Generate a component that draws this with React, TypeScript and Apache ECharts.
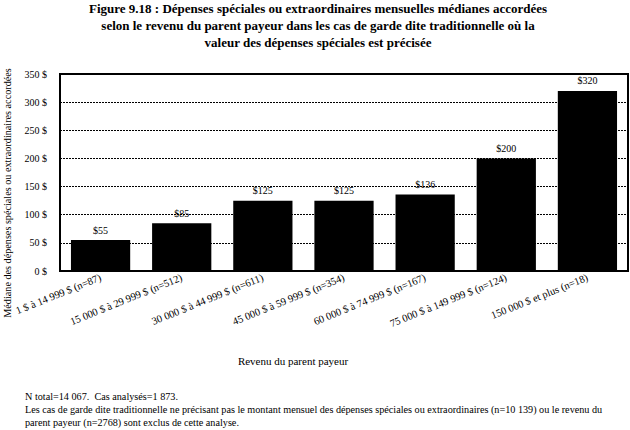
import { useEffect, useRef } from "react";
import * as echarts from "echarts";

const categories = [
  "1 $ à 14 999 $ (n=87)",
  "15 000 $ à 29 999 $ (n=512)",
  "30 000 $ à 44 999 $ (n=611)",
  "45 000 $ à 59 999 $ (n=354)",
  "60 000 $ à 74 999 $ (n=167)",
  "75 000 $ à 149 999 $ (n=124)",
  "150 000 $ et plus (n=18)",
];
const medians = [55, 85, 125, 125, 136, 200, 320];

const titleLines = [
  "Figure 9.18 : Dépenses spéciales ou extraordinaires mensuelles médianes accordées",
  "selon le revenu du parent payeur dans les cas de garde dite traditionnelle où la",
  "valeur des dépenses spéciales est précisée",
];
const yAxisTitle = "Médiane des dépenses spéciales ou extraordinaires accordées";
const xAxisTitle = "Revenu du parent payeur";
const notes = [
  "N total=14 067.  Cas analysés=1 873.",
  "Les cas de garde dite traditionnelle ne précisant pas le montant mensuel des dépenses spéciales ou extraordinaires (n=10 139) ou le revenu du",
  "parent payeur (n=2768) sont exclus de cette analyse.",
];

const FONT = "Liberation Serif";

export default function App() {
  const ref = useRef<HTMLDivElement | null>(null);

  useEffect(() => {
    if (!ref.current) return;
    const chart = echarts.init(ref.current, undefined, { renderer: "svg" });

    const option: echarts.EChartsOption = {
      animation: false,
      backgroundColor: "#ffffff",
      textStyle: { fontFamily: FONT, color: "#000" },
      title: {
        text: titleLines.join("\n"),
        left: 318,
        top: 0,
        padding: 0,
        textAlign: "center",
        textStyle: {
          fontFamily: FONT,
          fontSize: 13,
          fontWeight: "bold",
          lineHeight: 17,
          color: "#000",
        },
      },
      grid: {
        left: 60,
        right: 2,
        top: 74,
        bottom: 159,
        show: true,
        borderColor: "#000",
        borderWidth: 2,
        backgroundColor: "transparent",
      },
      xAxis: {
        type: "category",
        data: categories,
        axisLine: { show: true, lineStyle: { color: "#000", width: 2 } },
        axisTick: { show: false },
        axisLabel: {
          rotate: 22,
          fontFamily: FONT,
          fontSize: 10.5,
          color: "#000",
          margin: 6,
          interval: 0,
        },
      },
      yAxis: {
        type: "value",
        min: 0,
        max: 350,
        interval: 50,
        axisLine: { show: false },
        axisTick: { show: false },
        axisLabel: {
          formatter: "{value} $",
          fontFamily: FONT,
          fontSize: 10,
          color: "#000",
          margin: 13,
        },
        splitLine: {
          show: true,
          lineStyle: { color: "#000", type: [2, 1], width: 1 },
        },
      },
      series: [
        {
          type: "bar",
          data: medians,
          barWidth: "73%",
          itemStyle: { color: "#000" },
          label: {
            show: true,
            position: "top",
            formatter: "${c}",
            fontFamily: FONT,
            fontSize: 10,
            color: "#000",
            distance: 5,
          },
        },
      ],
      graphic: [
        {
          type: "text",
          x: 7,
          y: 193,
          rotation: Math.PI / 2,
          style: {
            text: yAxisTitle,
            fontFamily: FONT,
            fontSize: 10.2,
            fill: "#000",
            textAlign: "center",
            textVerticalAlign: "middle",
          },
        },
        {
          type: "text",
          x: 293,
          y: 361,
          style: {
            text: xAxisTitle,
            fontFamily: FONT,
            fontSize: 11,
            fill: "#000",
            textAlign: "center",
            textVerticalAlign: "middle",
          },
        },
        ...notes.map((t, i) => ({
          type: "text" as const,
          x: 25,
          y: 396 + i * 13,
          style: {
            text: t,
            fontFamily: FONT,
            fontSize: 10.2,
            fill: "#000",
            textVerticalAlign: "middle" as const,
          },
        })),
      ],
    };

    chart.setOption(option);
    return () => {
      chart.dispose();
    };
  }, []);

  return (
    <div
      ref={ref}
      style={{ position: "absolute", left: 0, top: 0, width: 630, height: 430 }}
    />
  );
}
